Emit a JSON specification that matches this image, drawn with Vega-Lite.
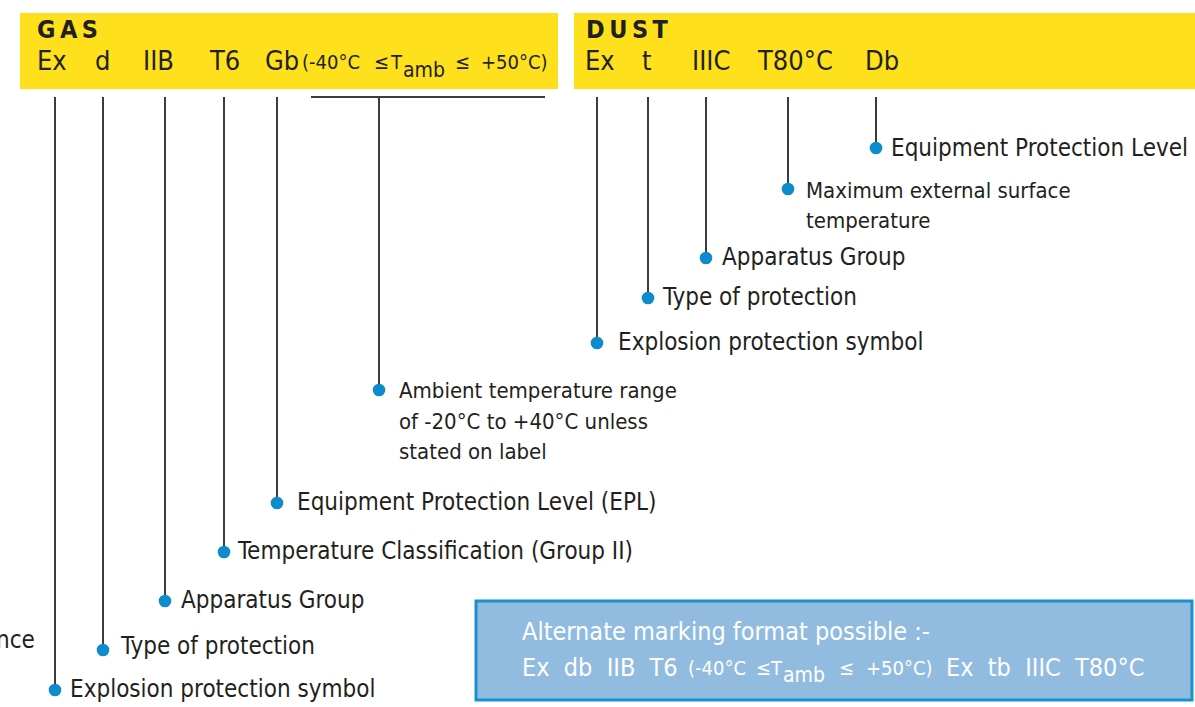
{
  "$schema": "https://vega.github.io/schema/vega-lite/v6.json",
  "width": 1195,
  "height": 707,
  "autosize": {"type": "none"},
  "padding": 0,
  "background": "white",
  "config": {"view": {"stroke": null}, "axis": {"disable": true}, "text": {"font": "'DejaVu Sans Condensed', 'Roboto', sans-serif"}},
  "datasets": {
    "boxes": [
      {"box": "GAS", "x1": 20, "x2": 558, "y1": 13, "y2": 89},
      {"box": "DUST", "x1": 574, "x2": 1195, "y1": 13, "y2": 89}
    ],
    "note": [{"x1": 476, "x2": 1192, "y1": 601, "y2": 700}],
    "leaders": [
      {"item": "GAS Ex", "x": 55, "y1": 97, "y2": 690},
      {"item": "GAS d", "x": 103, "y1": 97, "y2": 650},
      {"item": "GAS IIB", "x": 165, "y1": 97, "y2": 601},
      {"item": "GAS T6", "x": 224, "y1": 97, "y2": 552},
      {"item": "GAS Gb", "x": 277, "y1": 97, "y2": 503},
      {"item": "GAS Tamb", "x": 379, "y1": 97, "y2": 390},
      {"item": "DUST Ex", "x": 597, "y1": 97, "y2": 343},
      {"item": "DUST t", "x": 648, "y1": 97, "y2": 298},
      {"item": "DUST IIIC", "x": 706, "y1": 97, "y2": 258},
      {"item": "DUST T80", "x": 788, "y1": 97, "y2": 189},
      {"item": "DUST Db", "x": 876, "y1": 97, "y2": 148}
    ],
    "bracket": [{"x1": 311, "x2": 545, "y": 97}],
    "labels": [
      {"x": 70, "y": 690, "text": "Explosion protection symbol"},
      {"x": 121, "y": 647, "text": "Type of protection"},
      {"x": 181, "y": 601, "text": "Apparatus Group"},
      {"x": 238, "y": 552, "text": "Temperature Classification (Group II)"},
      {"x": 297, "y": 503, "text": "Equipment Protection Level (EPL)"},
      {"x": 618, "y": 343, "text": "Explosion protection symbol"},
      {"x": 663, "y": 298, "text": "Type of protection"},
      {"x": 722, "y": 258, "text": "Apparatus Group"},
      {"x": 891, "y": 149, "text": "Equipment Protection Level"},
      {"x": -4, "y": 641, "text": "nce"}
    ],
    "smallLabels": [
      {"x": 399, "y": 391, "text": "Ambient temperature range"},
      {"x": 399, "y": 422, "text": "of -20°C to +40°C unless"},
      {"x": 399, "y": 452, "text": "stated on label"},
      {"x": 806, "y": 191, "text": "Maximum external surface"},
      {"x": 806, "y": 221, "text": "temperature"}
    ],
    "titles": [
      {"x": 37, "y": 30, "text": "G\u2009A\u2009S"},
      {"x": 586, "y": 30, "text": "D\u2009U\u2009S\u2009T"}
    ],
    "codes": [
      {"x": 37, "y": 62, "text": "Ex"},
      {"x": 95, "y": 62, "text": "d"},
      {"x": 143, "y": 62, "text": "IIB"},
      {"x": 210, "y": 62, "text": "T6"},
      {"x": 265, "y": 62, "text": "Gb"},
      {"x": 585, "y": 62, "text": "Ex"},
      {"x": 642, "y": 62, "text": "t"},
      {"x": 692, "y": 62, "text": "IIIC"},
      {"x": 758, "y": 62, "text": "T80°C"},
      {"x": 865, "y": 62, "text": "Db"}
    ],
    "rangeText": [
      {"x": 302, "y": 63, "text": "(-40°C"},
      {"x": 374, "y": 63, "text": "≤"},
      {"x": 391, "y": 63, "text": "T"},
      {"x": 455, "y": 63, "text": "≤"},
      {"x": 481, "y": 63, "text": "+50°C)"}
    ],
    "subText": [{"x": 403, "y": 71, "text": "amb"}],
    "noteText": [
      {"x": 522, "y": 632, "text": "Alternate marking format possible :-"},
      {"x": 522, "y": 668, "text": "Ex\u00a0 db\u00a0 IIB\u00a0 T6"},
      {"x": 946, "y": 668, "text": "Ex\u00a0 tb\u00a0 IIIC\u00a0 T80°C"}
    ],
    "noteSmall": [
      {"x": 688, "y": 669, "text": "(-40°C"},
      {"x": 756, "y": 669, "text": "≤"},
      {"x": 771, "y": 669, "text": "T"},
      {"x": 839, "y": 669, "text": "≤"},
      {"x": 866, "y": 669, "text": "+50°C)"}
    ],
    "noteSub": [{"x": 783, "y": 676, "text": "amb"}]
  },
  "layer": [
    {
      "data": {"name": "boxes"},
      "mark": {"type": "rect", "color": "#FEE01C"},
      "encoding": {
        "x": {"field": "x1", "type": "quantitative", "scale": {"domain": [0, 1195], "nice": false, "zero": false}},
        "x2": {"field": "x2"},
        "y": {"field": "y1", "type": "quantitative", "scale": {"domain": [707, 0], "nice": false, "zero": false}},
        "y2": {"field": "y2"}
      }
    },
    {
      "data": {"name": "note"},
      "mark": {"type": "rect", "color": "#92BBE0", "stroke": "#1991CF", "strokeWidth": 3},
      "encoding": {
        "x": {"field": "x1", "type": "quantitative"},
        "x2": {"field": "x2"},
        "y": {"field": "y1", "type": "quantitative"},
        "y2": {"field": "y2"}
      }
    },
    {
      "data": {"name": "leaders"},
      "mark": {"type": "rule", "color": "#3C3C3C", "strokeWidth": 2},
      "encoding": {
        "x": {"field": "x", "type": "quantitative"},
        "y": {"field": "y1", "type": "quantitative"},
        "y2": {"field": "y2"}
      }
    },
    {
      "data": {"name": "bracket"},
      "mark": {"type": "rule", "color": "#3C3C3C", "strokeWidth": 2},
      "encoding": {
        "x": {"field": "x1", "type": "quantitative"},
        "x2": {"field": "x2"},
        "y": {"field": "y", "type": "quantitative"}
      }
    },
    {
      "data": {"name": "leaders"},
      "mark": {"type": "point", "filled": true, "color": "#0E8BCB", "size": 160, "opacity": 1},
      "encoding": {
        "x": {"field": "x", "type": "quantitative"},
        "y": {"field": "y2", "type": "quantitative"}
      }
    },
    {
      "data": {"name": "labels"},
      "mark": {"type": "text", "align": "left", "baseline": "middle", "fontSize": 24, "color": "#231F20"},
      "encoding": {
        "x": {"field": "x", "type": "quantitative"},
        "y": {"field": "y", "type": "quantitative"},
        "text": {"field": "text"}
      }
    },
    {
      "data": {"name": "smallLabels"},
      "mark": {"type": "text", "align": "left", "baseline": "middle", "fontSize": 22, "color": "#231F20"},
      "encoding": {
        "x": {"field": "x", "type": "quantitative"},
        "y": {"field": "y", "type": "quantitative"},
        "text": {"field": "text"}
      }
    },
    {
      "data": {"name": "titles"},
      "mark": {"type": "text", "align": "left", "baseline": "middle", "fontWeight": "bold", "fontSize": 25, "color": "#231F20"},
      "encoding": {
        "x": {"field": "x", "type": "quantitative"},
        "y": {"field": "y", "type": "quantitative"},
        "text": {"field": "text"}
      }
    },
    {
      "data": {"name": "codes"},
      "mark": {"type": "text", "align": "left", "baseline": "middle", "fontSize": 27, "color": "#231F20"},
      "encoding": {
        "x": {"field": "x", "type": "quantitative"},
        "y": {"field": "y", "type": "quantitative"},
        "text": {"field": "text"}
      }
    },
    {
      "data": {"name": "rangeText"},
      "mark": {"type": "text", "align": "left", "baseline": "middle", "fontSize": 20, "color": "#231F20"},
      "encoding": {
        "x": {"field": "x", "type": "quantitative"},
        "y": {"field": "y", "type": "quantitative"},
        "text": {"field": "text"}
      }
    },
    {
      "data": {"name": "subText"},
      "mark": {"type": "text", "align": "left", "baseline": "middle", "fontSize": 21, "color": "#231F20"},
      "encoding": {
        "x": {"field": "x", "type": "quantitative"},
        "y": {"field": "y", "type": "quantitative"},
        "text": {"field": "text"}
      }
    },
    {
      "data": {"name": "noteText"},
      "mark": {"type": "text", "align": "left", "baseline": "middle", "fontSize": 25, "color": "#FFFFFF"},
      "encoding": {
        "x": {"field": "x", "type": "quantitative"},
        "y": {"field": "y", "type": "quantitative"},
        "text": {"field": "text"}
      }
    },
    {
      "data": {"name": "noteSmall"},
      "mark": {"type": "text", "align": "left", "baseline": "middle", "fontSize": 20, "color": "#FFFFFF"},
      "encoding": {
        "x": {"field": "x", "type": "quantitative"},
        "y": {"field": "y", "type": "quantitative"},
        "text": {"field": "text"}
      }
    },
    {
      "data": {"name": "noteSub"},
      "mark": {"type": "text", "align": "left", "baseline": "middle", "fontSize": 21, "color": "#FFFFFF"},
      "encoding": {
        "x": {"field": "x", "type": "quantitative"},
        "y": {"field": "y", "type": "quantitative"},
        "text": {"field": "text"}
      }
    }
  ]
}
